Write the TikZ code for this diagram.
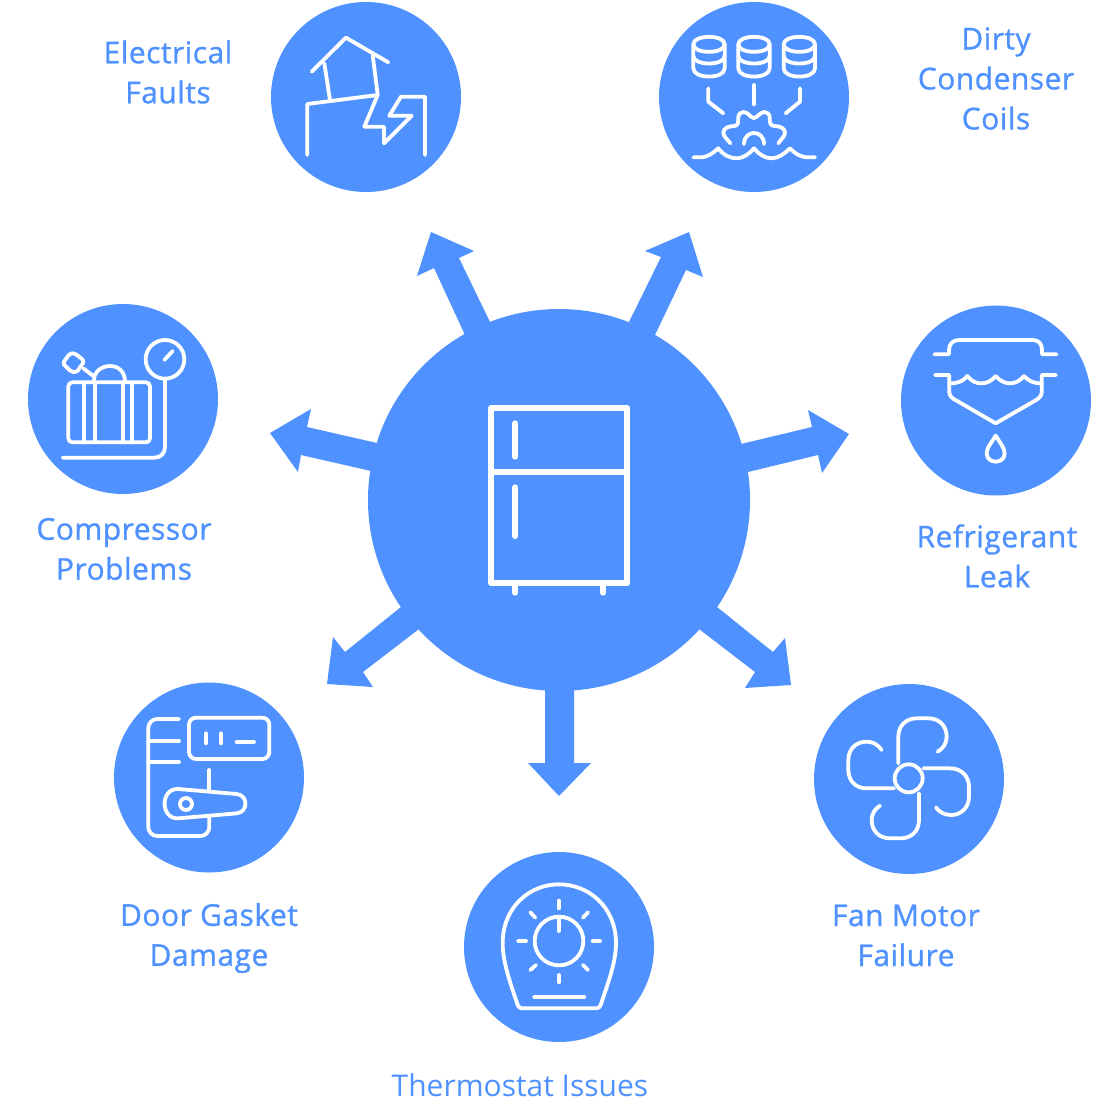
\documentclass[tikz,border=0pt]{standalone}
\usepackage{fontspec}
\setmainfont{Open Sans}
\newfontfamily\semifont[FakeBold=1,LetterSpace=1.6]{Open Sans}
\definecolor{brand}{HTML}{4F92FF}
\tikzset{
  disc/.style={circle,fill=brand,draw=none,minimum size=190pt,inner sep=0pt},
  lbl/.style={text=brand,align=center,font=\semifont\fontsize{30}{40}\selectfont,inner sep=0pt},
  lbllight/.style={text=brand,align=center,font=\fontsize{30}{40}\selectfont,inner sep=0pt},
  fat/.style={fill=brand,draw=none},
  zoomed/.style n args={2}{shift={(#1,#2)},x=0.33333pt,y=-0.33333pt},
  ico/.style={draw=white,line width=3.8pt,line cap=round,line join=round},
  bold/.style={draw=white,line width=6pt,line cap=round,line join=round},
  stack/.pic={
    \draw[ico] (-47,-32) .. controls (-47,-62) and (47,-62) .. (47,-32) -- (47,40) .. controls (47,73) and (-47,73) .. (-47,40) -- cycle;
    \draw[ico] (-47,-32) .. controls (-47,-2) and (47,-2) .. (47,-32);
    \draw[ico] (-47,3) .. controls (-47,33) and (47,33) .. (47,3);
  }
}
\begin{document}
\begin{tikzpicture}[x=1pt,y=-1pt]
\useasboundingbox (0,0) rectangle (1104,1117);
% hub and arrows
\node[circle,fill=brand,minimum size=382pt,inner sep=0pt] (hub) at (559,500) {};
\fill[fat] (431,232) -- (417,276) -- (434,268) -- (465,335) -- (490,322) -- (459,258) -- (474,251) -- cycle;
\fill[fat] (689,232) -- (703,277) -- (686,270) -- (655,335) -- (629,322) -- (661,257) -- (645,251) -- cycle;
\fill[fat] (849,434) -- (808,410) -- (812,427) -- (741,444) -- (748,472) -- (818,455) -- (822,473) -- cycle;
\fill[fat] (270,433) -- (311,409) -- (307,427) -- (377,443) -- (371,471) -- (301,455) -- (298,472) -- cycle;
\fill[fat] (559,796) -- (528,763) -- (545,763) -- (545,685) -- (574,685) -- (574,763) -- (591,763) -- cycle;
\fill[fat] (791,685) -- (745,688) -- (755,672) -- (699,629) -- (717,607) -- (773,652) -- (785,638) -- cycle;
\fill[fat] (327,684) -- (333,637) -- (345,652) -- (401,607) -- (419,629) -- (363,672) -- (373,687) -- cycle;
% fridge
\begin{scope}[zoomed={470}{390}]
\draw[bold] (64,54) rectangle (472,580);
\draw[bold,line cap=butt] (64,245) -- (472,245);
\draw[bold] (136,100) -- (136,200);
\draw[bold] (136,292) -- (136,438);
\draw[bold] (136,580) -- (136,608);
\draw[bold] (400,580) -- (400,608);
\end{scope}
% discs
\node[disc] (ef) at (366,97) {};
\node[disc] (dc) at (754,97) {};
\node[disc] (rl) at (996,400.5) {};
\node[disc] (cp) at (123,399) {};
\node[disc] (dg) at (209,777.5) {};
\node[disc] (fm) at (909,779) {};
\node[disc] (th) at (559,947) {};
% electrical faults icon
\begin{scope}[zoomed={270}{0}]
\draw[ico] (125,215) -- (228,113) -- (355,187);
\draw[ico] (163,190) -- (180,300);
\draw[ico] (308,165) -- (323,283);
\draw[ico] (112,465) -- (112,312) -- (323,285) -- (283,380) -- (342,380) -- (342,430) -- (425,347) -- (358,347) -- (393,290) -- (465,290) -- (465,465);
\end{scope}
% dirty coils icon
\begin{scope}[zoomed={655}{0}]
\pic at (162,165) {stack};
\pic at (297,165) {stack};
\pic at (433,165) {stack};
\draw[ico] (160,265) -- (160,305) -- (205,340);
\draw[ico] (297,255) -- (297,313);
\draw[ico] (435,265) -- (435,305) -- (392,340);
\draw[ico] (226,430) .. controls (218,418) and (205,410) .. (205,398) .. controls (205,385) and (220,378) .. (238,378) .. controls (250,378) and (250,365) .. (250,352) .. controls (250,342) and (258,336) .. (266,336) .. controls (278,336) and (288,354) .. (297,354) .. controls (306,354) and (316,336) .. (328,336) .. controls (336,336) and (344,342) .. (344,352) .. controls (344,365) and (344,378) .. (358,378) .. controls (375,378) and (390,385) .. (390,398) .. controls (390,410) and (377,418) .. (370,430);
\draw[ico] (267,432) .. controls (267,388) and (327,388) .. (327,432);
\draw[ico] (115,472) -- (135,472) .. controls (160,472) and (175,458) .. (190,445) .. controls (205,465) and (225,475) .. (245,475) .. controls (265,475) and (285,460) .. (297,445) .. controls (310,462) and (330,475) .. (350,475) .. controls (370,475) and (390,460) .. (405,445) .. controls (420,460) and (435,472) .. (460,472) -- (480,472);
\end{scope}
% refrigerant leak icon
\begin{scope}[zoomed={900}{305}]
\draw[ico] (103,148) -- (147,148) -- (147,135) .. controls (147,115) and (160,105) .. (178,105) -- (398,105) .. controls (415,105) and (426,115) .. (426,135) -- (426,148) -- (470,148);
\draw[ico] (105,210) -- (148,210) -- (148,262) .. controls (148,272) and (155,280) .. (170,287) -- (287,355) -- (405,287) .. controls (418,280) and (425,272) .. (425,262) -- (425,210) -- (468,210);
\draw[ico] (150,235) .. controls (175,235) and (190,228) .. (202,213) .. controls (215,230) and (230,235) .. (245,235) .. controls (260,235) and (275,228) .. (287,213) .. controls (300,228) and (315,235) .. (330,235) .. controls (345,235) and (360,228) .. (372,213) .. controls (385,228) and (400,235) .. (425,235);
\draw[ico] (287,392) .. controls (275,412) and (260,428) .. (260,445) .. controls (260,460) and (272,470) .. (287,470) .. controls (302,470) and (314,460) .. (314,445) .. controls (314,428) and (299,412) .. (287,392) -- cycle;
\end{scope}
% compressor icon
\begin{scope}[zoomed={25}{300}]
\draw[ico] (420,178) circle (58);
\draw[ico] (418,180) -- (443,153);
\draw[ico] (420,237) -- (420,440) .. controls (420,460) and (408,473) .. (388,473) -- (113,473);
\draw[ico,rounded corners=4pt] (130,247) rectangle (375,427);
\draw[ico] (178,250) -- (178,425);
\draw[ico] (210,250) -- (210,425);
\draw[ico] (295,250) -- (295,425);
\draw[ico] (322,250) -- (322,425);
\draw[ico] (207,240) .. controls (207,215) and (230,198) .. (255,198) .. controls (280,198) and (300,215) .. (300,245);
\draw[ico,rounded corners=2pt] (113,190) -- (135,160) -- (150,160) -- (178,183) -- (155,217) -- (138,215) -- cycle;
\draw[ico] (175,205) -- (205,228);
\end{scope}
% door gasket icon
\begin{scope}[zoomed={110}{680}]
\draw[ico,rounded corners=9pt] (207,117) -- (115,117) -- (115,468) -- (298,468) -- (298,410);
\draw[ico] (115,183) -- (207,183);
\draw[ico] (115,246) -- (207,246);
\draw[ico,rounded corners=7pt] (237,113) rectangle (478,237);
\draw[ico] (287,160) -- (287,190);
\draw[ico] (333,160) -- (333,190);
\draw[ico] (380,186) -- (432,186);
\draw[ico] (298,270) -- (298,330);
\draw[ico] (205,327) -- (380,342) .. controls (415,345) and (415,397) .. (380,400) -- (205,415) .. controls (150,418) and (150,324) .. (205,327) -- cycle;
\draw[ico] (228,372) circle (18);
\end{scope}
% fan icon
\begin{scope}[zoomed={810}{680}]
\draw[ico] (296,295) circle (42);
\draw[ico] (265,250) -- (265,170) .. controls (265,135) and (290,115) .. (320,115) -- (355,115) .. controls (390,115) and (410,140) .. (410,170) .. controls (410,190) and (400,205) .. (383,215);
\draw[ico] (340,265) -- (420,265) .. controls (455,265) and (477,290) .. (477,320) -- (477,350) .. controls (477,385) and (450,405) .. (425,405) .. controls (405,405) and (388,398) .. (378,382);
\draw[ico] (327,340) -- (327,420) .. controls (327,455) and (302,475) .. (272,475) -- (240,475) .. controls (205,475) and (185,450) .. (185,420) .. controls (185,400) and (195,387) .. (210,377);
\draw[ico] (252,325) -- (170,325) .. controls (135,325) and (115,300) .. (115,270) -- (115,240) .. controls (115,205) and (140,185) .. (170,185) .. controls (190,185) and (205,195) .. (215,210);
\end{scope}
% thermostat icon
\begin{scope}[zoomed={460}{850}]
\draw[ico] (185,475) -- (410,475) .. controls (416,475) and (420,470) .. (422,465) .. controls (440,410) and (468,340) .. (468,280) .. controls (468,170) and (385,103) .. (297,103) .. controls (210,103) and (128,170) .. (128,280) .. controls (128,340) and (155,410) .. (173,465) .. controls (175,470) and (179,475) .. (185,475) -- cycle;
\draw[ico] (297,273) circle (73);
\draw[ico] (297,200) -- (297,243);
\draw[ico] (297,152) -- (297,175);
\draw[ico] (211,187) -- (226,203);
\draw[ico] (384,187) -- (369,203);
\draw[ico] (175,273) -- (198,273);
\draw[ico] (398,273) -- (420,273);
\draw[ico] (211,360) -- (228,345);
\draw[ico] (384,360) -- (369,345);
\draw[ico] (297,375) -- (297,397);
\draw[ico] (223,441) -- (373,441);
\end{scope}
% labels
\node[lbl] (efl) at (168,72) {Electrical\\Faults};
\node[lbl] (dcl) at (996,78.5) {Dirty\\Condenser\\Coils};
\node[lbl] (rll) at (997,556) {Refrigerant\\Leak};
\node[lbl] (cpl) at (124,549) {Compressor\\Problems};
\node[lbl] (dgl) at (209,938) {Door Gasket\\Damage};
\node[lbl] (fml) at (906,935.5) {Fan Motor\\Failure};
\node[lbllight] (thl) at (520,1085) {Thermostat Issues};
\end{tikzpicture}
\end{document}
